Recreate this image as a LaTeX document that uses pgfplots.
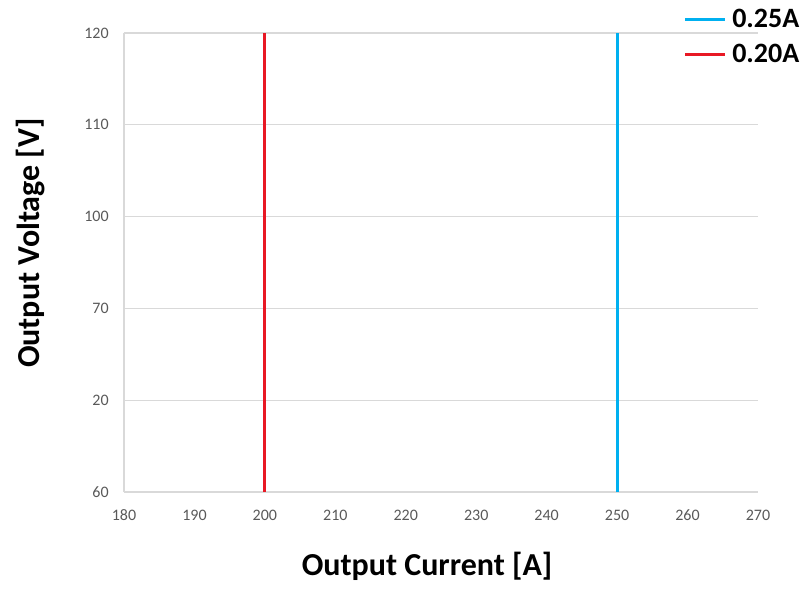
\documentclass[border=0pt]{standalone}
\usepackage{pgfplots}
\pgfplotsset{compat=1.18}
\usepackage{fontspec}
\setmainfont{Carlito}
\definecolor{lineblue}{RGB}{0,176,240}
\definecolor{linered}{RGB}{232,24,36}
\definecolor{tickgrey}{RGB}{89,89,89}
\definecolor{gridgrey}{RGB}{217,217,217}
\begin{document}
\begin{tikzpicture}[x=0.75pt,y=0.75pt]
  \begin{axis}[
      name=ax,
      at={(0,0)}, anchor=south west,
      scale only axis,
      width=475.5pt, height=344.25pt,
      xmin=180, xmax=270,
      ymin=0, ymax=5,
      xtick={180,190,...,270},
      ytick={0,1,2,3,4,5},
      yticklabels={60,20,70,100,110,120},
      /pgf/number format/assume math mode=true,
      axis x line*=bottom, axis y line*=left,
      axis line style={gridgrey, line width=0.8pt, -},
      major tick length=0pt,
      ymajorgrids=true,
      grid style={gridgrey, line width=0.8pt},
      tick label style={font=\fontsize{12}{14}\selectfont, text=tickgrey},
      xticklabel style={yshift=-10pt},
      yticklabel style={xshift=-8pt},
      xlabel={Output Current [A]},
      ylabel={Output Voltage [V]},
      label style={font=\fontsize{24}{28}\selectfont\bfseries},
      xlabel style={at={(axis description cs:0.478,-0.163)}, anchor=center},
      ylabel style={at={(axis description cs:-0.148,0.542)}, anchor=center},
      legend style={at={(axis description cs:1.074,1.058)}, anchor=north east,
        draw=none, fill=none, font=\fontsize{21}{23}\selectfont\bfseries,
        row sep=7pt, inner sep=0pt,
        nodes={inner xsep=4pt}},
      legend cell align=left,
      legend image code/.code={\draw[#1, line width=2.2pt] (0pt,0pt) -- (30pt,0pt);},
    ]
    \addplot[lineblue, line width=2.2pt] coordinates {(250,0) (250,5)};
    \addplot[linered, line width=2.2pt] coordinates {(200,0) (200,5)};
    \legend{0.25A, 0.20A}
  \end{axis}
  \path (ax.south west) ++(-124,-98) rectangle ++(811,590);
\end{tikzpicture}
\end{document}
